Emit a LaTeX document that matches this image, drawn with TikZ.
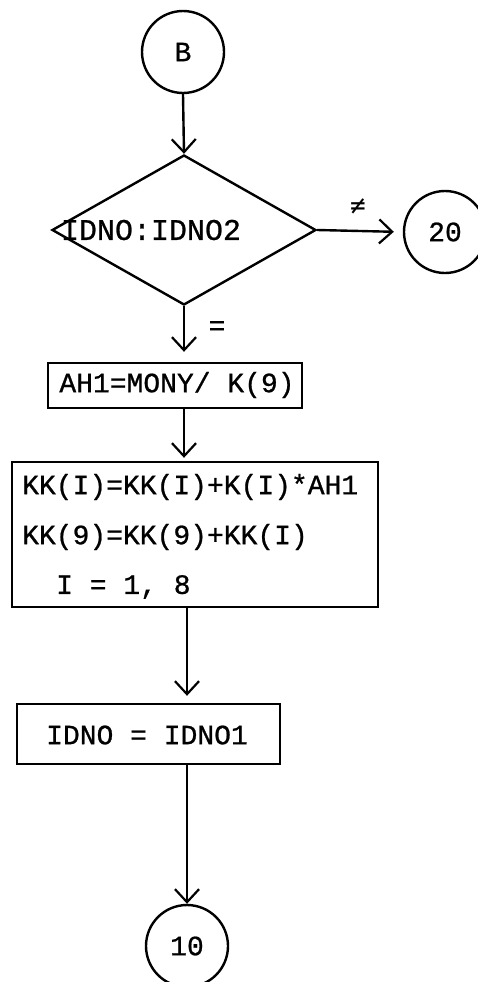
\documentclass[tikz,border=0pt]{standalone}
\usepackage{fontspec}
\usetikzlibrary{shapes.geometric,arrows.meta}
\newfontfamily\cour[FakeBold=0.8]{Liberation Mono}
\newfontfamily\dvm{DejaVu Sans Mono}
\begin{document}
\begin{tikzpicture}[x=1pt,y=-1pt,
  every node/.style={font=\cour\fontsize{28}{30}\selectfont, inner sep=0pt},
  ln/.style={line width=2.4pt},
  conn/.style={ln, -{Straight Barb[length=13pt,width=24pt,line width=2.2pt]}},
  circ/.style={ln, draw, circle, minimum size=82pt},
  box/.style={ln, draw, rectangle}]
\useasboundingbox (0,0) rectangle (478,982);
\node[circ] (B) at (183,52) {B};
\node[ln, draw, diamond, minimum width=264pt, minimum height=150pt, aspect=1.76] (D) at (184,230) {};
\node[font=\cour\fontsize{30}{32}\selectfont] (dt) at (151,230) {IDNO:IDNO2};
\node[circ] (c20) at (445,232) {20};
\node[box, minimum width=254pt, minimum height=45pt] (b1) at (175,385.5) {};
\node (b1t) at (177,385) {AH1=MONY/ K(9)};
\node[box, minimum width=366pt, minimum height=145pt] (b2) at (195,534.5) {};
\node[anchor=west] (l1) at (22,487) {KK(I)=KK(I)+K(I)*AH1};
\node[anchor=west] (l2) at (22,537) {KK(9)=KK(9)+KK(I)};
\node[anchor=west] (l3) at (56,587) {I = 1, 8};
\node[box, minimum width=263pt, minimum height=60pt] (b3) at (148.5,734) {};
\node (b3t) at (147,735) {IDNO = IDNO1};
\node[circ] (c10) at (187,946) {10};
\node[font=\dvm\fontsize{26}{28}\selectfont] (ne) at (358,207) {≠};
\node (eq) at (217,328) {=};
\draw[conn] (B.south) -- (D.north);
\draw[conn, shorten >=9pt] (D.east) -- (c20.west);
\draw[conn, shorten >=10pt] (D.south) -- (D.south |- b1.north);
\draw[conn, shorten >=3pt] (D.south |- b1.south) -- (D.south |- b2.north);
\draw[conn, shorten >=7pt] (c10.north |- b2.south) -- (c10.north |- b3.north);
\draw[conn] (c10.north |- b3.south) -- (c10.north);
\end{tikzpicture}
\end{document}
